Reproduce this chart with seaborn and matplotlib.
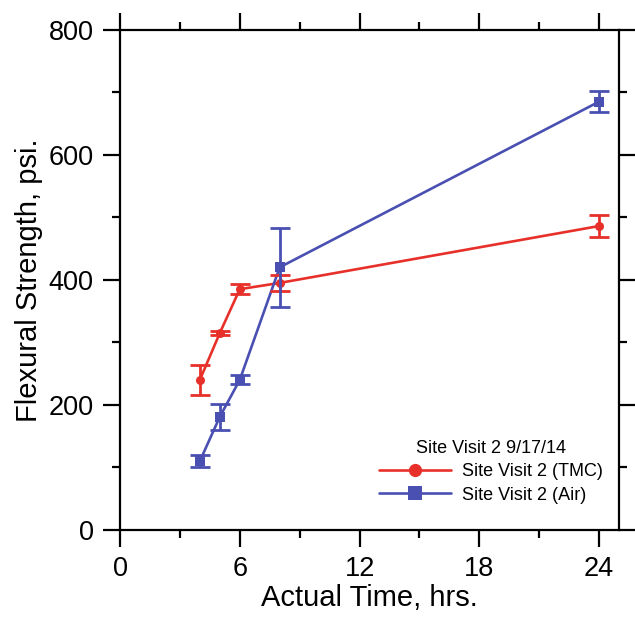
import numpy as np
import pandas as pd
import matplotlib
matplotlib.use("Agg")
import matplotlib.pyplot as plt
from matplotlib.ticker import MultipleLocator
from matplotlib.lines import Line2D
import seaborn as sns

sns.set_style("white")
plt.rcParams['font.family'] = ['Liberation Sans', 'DejaVu Sans']
plt.rcParams['text.color'] = 'black'
plt.rcParams['axes.labelcolor'] = 'black'
plt.rcParams['xtick.color'] = 'black'
plt.rcParams['ytick.color'] = 'black'

time_hrs = [4, 5, 6, 8, 24]
tmc_strength = [240, 315, 385, 395, 486]
tmc_err = [24, 3, 8, 13, 17]
air_strength = [110, 181, 240, 420, 685]
air_err = [9, 21, 7, 63, 17]

series_names = ["Site Visit 2 (TMC)", "Site Visit 2 (Air)"]
colors = ["#e8302a", "#4a50b2"]
marker_list = ['o', 's']

df = pd.concat([
    pd.DataFrame({'Time': time_hrs, 'Strength': tmc_strength, 'Err': tmc_err, 'Series': series_names[0]}),
    pd.DataFrame({'Time': time_hrs, 'Strength': air_strength, 'Err': air_err, 'Series': series_names[1]}),
], ignore_index=True)

fig = plt.figure(figsize=(6.35, 6.19), dpi=100)
ax = fig.add_axes([0.189, 0.144, 0.786, 0.808])

sns.lineplot(data=df, x='Time', y='Strength', hue='Series', style='Series',
             palette=colors, markers=marker_list, dashes=False,
             markersize=6.5, markeredgewidth=0, linewidth=1.9, ax=ax,
             legend=False)

for name, c in zip(series_names, colors):
    sub = df[df['Series'] == name]
    ax.errorbar(sub['Time'], sub['Strength'], yerr=sub['Err'], fmt='none',
                ecolor=c, elinewidth=2, capsize=7, capthick=2)

ax.set_xlim(0, 25)
ax.set_ylim(0, 800)
ax.xaxis.set_major_locator(MultipleLocator(6))
ax.xaxis.set_minor_locator(MultipleLocator(3))
ax.yaxis.set_major_locator(MultipleLocator(200))
ax.yaxis.set_minor_locator(MultipleLocator(100))
ax.tick_params(which='both', direction='out', top=True, right=True,
               bottom=True, left=True, width=1.6, color='black')
ax.tick_params(which='major', length=12, labelsize=19.5, pad=7)
ax.tick_params(which='minor', length=6)
for s in ax.spines.values():
    s.set_linewidth(1.6)
    s.set_color('black')

ax.set_xlabel('Actual Time, hrs.', fontsize=21, labelpad=1)
ax.set_ylabel('Flexural Strength, psi.', fontsize=21, labelpad=4)

handles = [Line2D([], [], color=c, marker=m, markersize=9.5, markeredgewidth=0,
                  linewidth=1.9) for c, m in zip(colors, marker_list)]
leg = ax.legend(handles, series_names, title='Site Visit 2 9/17/14',
                loc='lower right', frameon=False,
                fontsize=13, title_fontsize=13, handlelength=4.0,
                handletextpad=0.6, labelspacing=0.35,
                bbox_to_anchor=(1.0, 0.02))

fig.savefig('out.png', dpi=100)
